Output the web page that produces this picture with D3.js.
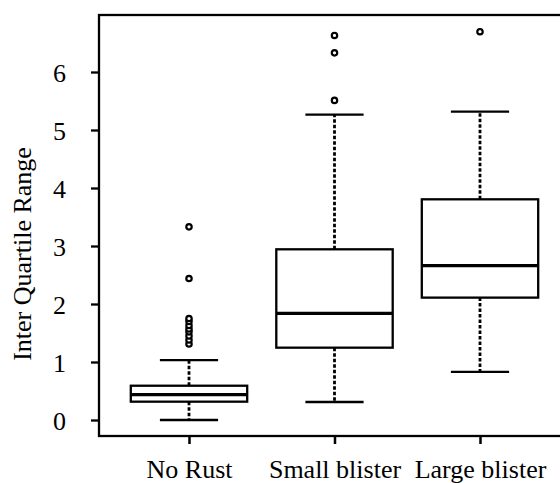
<!DOCTYPE html>
<html>
<head>
<meta charset="utf-8">
<script src="https://cdn.jsdelivr.net/npm/d3@7"></script>
<style>
  body { margin: 0; background: #fff; }
  text { font-family: "Liberation Serif", "Times New Roman", serif; fill: #000; }
</style>
</head>
<body>
<div id="chart"></div>
<script>
var categories = ["No Rust", "Small blister", "Large blister"],
    whiskerLow = [0, 0.31, 0.83],
    q1 = [0.316, 1.247, 2.11],
    medians = [0.436, 1.84, 2.66],
    q3 = [0.591, 2.943, 3.805],
    whiskerHigh = [1.034, 5.264, 5.316],
    outliers = [
      [1.31, 1.38, 1.45, 1.52, 1.57, 1.63, 1.70, 1.75, 2.44, 3.33],
      [5.51, 6.33, 6.63],
      [6.695]
    ],
    yTicks = [0, 1, 2, 3, 4, 5, 6];

var width = 560,
    height = 483,
    frame = {left: 99, top: 15, right: 572, bottom: 436};

var svg = d3.select("#chart").append("svg")
    .attr("width", width)
    .attr("height", height);

var x = d3.scalePoint().domain(categories).range([189, 480]),
    y = d3.scaleLinear().domain([0, 6]).range([420, 72]),
    step = x.step(),
    boxW = step * 0.8,
    capW = boxW * 0.5;

var boxes = categories.map(function (c, i) {
  return {cat: c, lo: whiskerLow[i], q1: q1[i], med: medians[i], q3: q3[i], hi: whiskerHigh[i], out: outliers[i]};
});

// frame
svg.append("rect")
    .attr("x", frame.left).attr("y", frame.top)
    .attr("width", frame.right - frame.left)
    .attr("height", frame.bottom - frame.top)
    .attr("fill", "none").attr("stroke", "#000").attr("stroke-width", 2.3);

// y axis
var yAxis = svg.append("g")
    .attr("transform", "translate(" + frame.left + ",0)")
    .call(d3.axisLeft(y).tickValues(yTicks).tickSize(8).tickPadding(25).tickFormat(d3.format("d")));
yAxis.select(".domain").remove();
yAxis.selectAll(".tick line").attr("stroke", "#000").attr("stroke-width", 2.3);
yAxis.selectAll(".tick text")
    .attr("font-size", 26)
    .attr("font-family", "Liberation Serif, Times New Roman, serif")
    .attr("dy", "0.36em");

// x axis
var xAxis = svg.append("g")
    .attr("transform", "translate(0," + frame.bottom + ")")
    .call(d3.axisBottom(x).tickSize(8).tickPadding(16));
xAxis.select(".domain").remove();
xAxis.selectAll(".tick line").attr("stroke", "#000").attr("stroke-width", 2.5);
xAxis.selectAll(".tick text")
    .attr("font-size", 26)
    .attr("font-family", "Liberation Serif, Times New Roman, serif");

svg.append("text")
    .attr("transform", "translate(31,254) rotate(-90)")
    .attr("text-anchor", "middle")
    .attr("font-size", 26)
    .text("Inter Quartile Range");

var g = svg.selectAll(".box").data(boxes).enter().append("g").attr("class", "box");

// whiskers
g.append("line")
    .attr("x1", function (d) { return x(d.cat); }).attr("x2", function (d) { return x(d.cat); })
    .attr("y1", function (d) { return y(d.q3); }).attr("y2", function (d) { return y(d.hi); })
    .attr("stroke", "#000").attr("stroke-width", 2.8).attr("stroke-dasharray", "3.5,2");
g.append("line")
    .attr("x1", function (d) { return x(d.cat); }).attr("x2", function (d) { return x(d.cat); })
    .attr("y1", function (d) { return y(d.q1); }).attr("y2", function (d) { return y(d.lo); })
    .attr("stroke", "#000").attr("stroke-width", 2.8).attr("stroke-dasharray", "3.5,2");

// caps
["hi", "lo"].forEach(function (k) {
  g.append("line")
      .attr("x1", function (d) { return x(d.cat) - capW / 2; })
      .attr("x2", function (d) { return x(d.cat) + capW / 2; })
      .attr("y1", function (d) { return y(d[k]); }).attr("y2", function (d) { return y(d[k]); })
      .attr("stroke", "#000").attr("stroke-width", 2.3);
});

// box
g.append("rect")
    .attr("x", function (d) { return x(d.cat) - boxW / 2; })
    .attr("width", boxW)
    .attr("y", function (d) { return y(d.q3); })
    .attr("height", function (d) { return y(d.q1) - y(d.q3); })
    .attr("fill", "#fff").attr("stroke", "#000").attr("stroke-width", 2.3);

// median
g.append("line")
    .attr("x1", function (d) { return x(d.cat) - boxW / 2; })
    .attr("x2", function (d) { return x(d.cat) + boxW / 2; })
    .attr("y1", function (d) { return y(d.med); }).attr("y2", function (d) { return y(d.med); })
    .attr("stroke", "#000").attr("stroke-width", 3.2);

// outliers
g.selectAll("circle")
    .data(function (d) { return d.out.map(function (v) { return {cat: d.cat, v: v}; }); })
    .enter().append("circle")
    .attr("cx", function (d) { return x(d.cat); })
    .attr("cy", function (d) { return y(d.v); })
    .attr("r", 2.7)
    .attr("fill", "#fff").attr("stroke", "#000").attr("stroke-width", 2.2);
</script>
</body>
</html>
